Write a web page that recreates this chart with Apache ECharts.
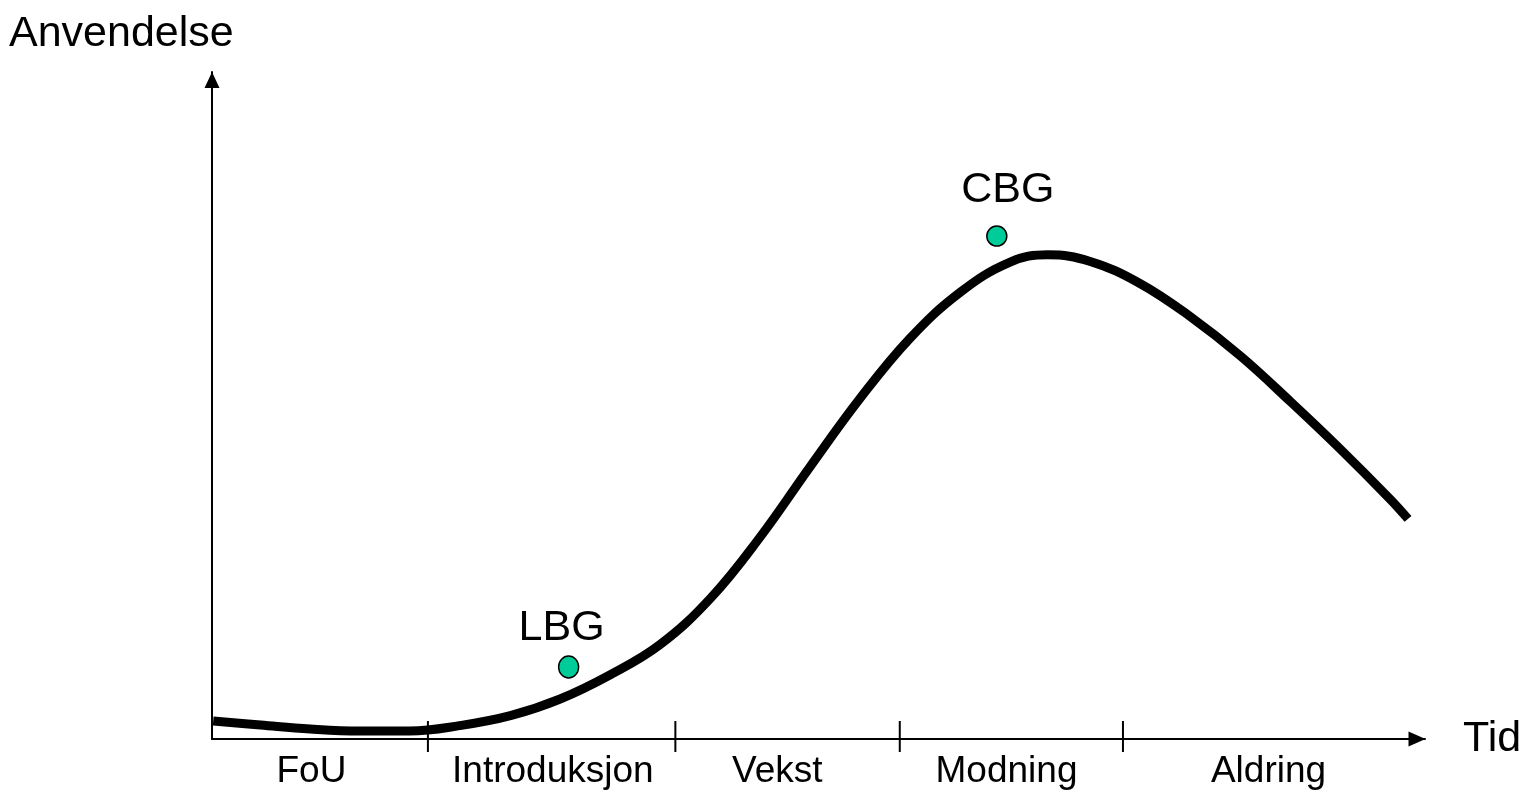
<!DOCTYPE html>
<html>
<head>
<meta charset="utf-8">
<script src="https://cdn.jsdelivr.net/npm/echarts@6/dist/echarts.min.js"></script>
<style>
html,body{margin:0;padding:0;background:#fff;}
#chart{width:1525px;height:792px;}
</style>
</head>
<body>
<div id="chart"></div>
<script>
// Life-cycle curve (time, adoption)
const curveX = [0.1, 4.0, 8.1, 12.2, 16.3, 20.4, 24.6, 28.7, 32.8, 36.9, 41.1, 45.2, 49.3, 53.4, 57.5, 61.7, 65.8, 68.9, 72.4, 76.5, 80.6, 84.8, 88.9, 93.0, 97.1, 98.6];
const curveY = [2.7, 2.1, 1.5, 1.2, 1.2, 2.0, 3.5, 6.0, 9.6, 14.1, 21.1, 30.3, 40.8, 51.0, 60.0, 67.0, 71.5, 72.6, 71.6, 68.3, 63.4, 57.4, 50.6, 43.5, 36.0, 33.0];

// Highlighted points
const pointNames = ['LBG', 'CBG'];
const pointX = [29.4, 64.7];
const pointY = [10.8, 75.4];

// Phase boundaries on the time axis, phase labels and where they sit
const phaseBounds = [17.8, 38.2, 56.7, 75.1];
const phaseNames = ['FoU', 'Introduksjon', 'Vekst', 'Modning', 'Aldring'];
const phaseLabelAt = [8.2, 28.1, 46.6, 65.5, 87.1];

const yTitle = 'Anvendelse';
const xTitle = 'Tid';

const FONT = 'Liberation Sans, Arial, sans-serif';

const curveData = curveX.map((x, i) => [x, curveY[i]]);
const pointStyles = [
  { size: [20, 22], offset: [-7, 0], dist: 6 },
  { size: [20, 20], offset: [11, 0], dist: 14 }
];
const pointData = pointNames.map((n, i) => ({
  name: n,
  value: [pointX[i], pointY[i]],
  symbolSize: pointStyles[i].size,
  label: { offset: pointStyles[i].offset, distance: pointStyles[i].dist }
}));
const tickData = phaseBounds.map(x => [x, 0]);
const phaseData = phaseNames.map((n, i) => ({ name: n, value: [phaseLabelAt[i], 0] }));

const chart = echarts.init(document.getElementById('chart'));
chart.setOption({
  animation: false,
  backgroundColor: '#fff',
  title: {
    text: yTitle,
    left: 4,
    top: 8,
    textStyle: { fontFamily: FONT, fontSize: 43, fontWeight: 'normal', color: '#000' }
  },
  grid: { left: 212, right: 100, top: 72, bottom: 53 },
  xAxis: {
    type: 'value', min: 0, max: 100,
    name: xTitle, nameLocation: 'end', nameGap: 38,
    nameTextStyle: { fontFamily: FONT, fontSize: 43, color: '#000', padding: [18, 0, 0, 0] },
    axisLine: { show: true, symbol: ['none', 'triangle'], symbolSize: [15, 17], symbolOffset: [0, -8], lineStyle: { color: '#000', width: 2 } },
    axisTick: { show: false }, axisLabel: { show: false }, splitLine: { show: false }
  },
  yAxis: {
    type: 'value', min: 0, max: 100,
    axisLine: { show: true, symbol: ['none', 'triangle'], symbolSize: [15, 16], symbolOffset: [0, -8], lineStyle: { color: '#000', width: 2 } },
    axisTick: { show: false }, axisLabel: { show: false }, splitLine: { show: false }
  },
  series: [
    {
      type: 'line', data: curveData, smooth: 0.4, symbol: 'none', clip: false,
      lineStyle: { color: '#000', width: 9, cap: 'butt', join: 'round' }, z: 3
    },
    {
      type: 'scatter', data: pointData, symbol: 'circle', z: 4,
      itemStyle: { color: '#00CC99', borderColor: '#000', borderWidth: 1.5, opacity: 1 },
      label: {
        show: true, position: 'top', formatter: '{b}',
        fontFamily: FONT, fontSize: 43, color: '#000', opacity: 1
      }
    },
    {
      type: 'custom', data: tickData, clip: false, z: 2,
      renderItem: function (params, api) {
        const p = api.coord([api.value(0), 0]);
        return { type: 'line', shape: { x1: p[0], y1: p[1] - 18, x2: p[0], y2: p[1] + 13 }, style: { stroke: '#000', lineWidth: 2 } };
      }
    },
    {
      type: 'custom', data: phaseData, clip: false, z: 2,
      renderItem: function (params, api) {
        const p = api.coord([api.value(0), 0]);
        return {
          type: 'text', x: p[0], y: p[1] + 33,
          style: { text: phaseNames[params.dataIndex], fontFamily: FONT, fontSize: 37, fill: '#000', align: 'center', verticalAlign: 'middle' }
        };
      }
    }
  ]
});
</script>
</body>
</html>
